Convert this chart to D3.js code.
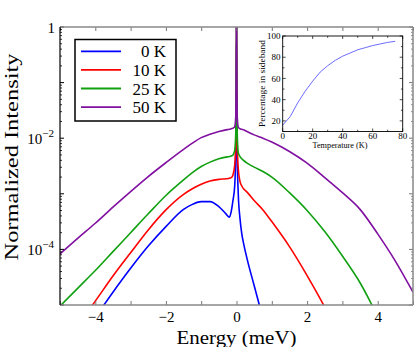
<!DOCTYPE html>
<html><head><meta charset="utf-8">
<script src="https://cdn.jsdelivr.net/npm/d3@7"></script>
<style>
body{margin:0;background:#fff}
svg{display:block}
</style>
</head><body>
<svg id="chart" width="415" height="347" style="font-family:'Liberation Serif','DejaVu Serif',serif"></svg>
<script>
// ---------------- data ----------------
const energy = [-5,-4.5,-4,-3.5,-3,-2.5,-2,-1.5,-1.25,-1,-0.75,-0.5,-0.3,-0.2,-0.15,-0.1,-0.05,-0.02,-0.01,0,0.01,0.02,0.05,0.1,0.15,0.2,0.3,0.5,0.75,1,1.5,2,2.5,3,3.5,4,4.5,5];
// log10 of normalized intensity
const log10Intensity0K  = [-6.1,-5.66,-5.22,-4.77,-4.34,-3.94,-3.59,-3.28,-3.19,-3.14,-3.14,-3.23,-3.36,-3.42,-3.32,-3.12,-2.85,-2.2,-1.5,0,-1.6,-2.3,-3.0,-3.45,-3.72,-3.89,-4.17,-4.65,-5.25,-5.9,-7,-8,-9,-10,-11,-12,-13,-14];
const log10Intensity10K = [-5.8,-5.37,-4.93,-4.48,-4.06,-3.65,-3.29,-3.01,-2.91,-2.83,-2.77,-2.74,-2.73,-2.72,-2.71,-2.66,-2.48,-2.05,-1.5,0,-1.5,-2.1,-2.55,-2.78,-2.86,-2.91,-2.97,-3.12,-3.29,-3.50,-3.95,-4.47,-5.04,-5.7,-6.4,-7.1,-7.8,-8.5];
const log10Intensity25K = [-5.02,-4.70,-4.38,-4.04,-3.70,-3.36,-3.03,-2.75,-2.62,-2.51,-2.43,-2.37,-2.34,-2.33,-2.32,-2.30,-2.22,-1.9,-1.2,0,-1.2,-1.9,-2.26,-2.33,-2.37,-2.40,-2.45,-2.52,-2.60,-2.70,-2.98,-3.30,-3.68,-4.12,-4.60,-5.2,-5.8,-6.5];
const log10Intensity50K = [-4.08,-3.80,-3.53,-3.24,-2.96,-2.69,-2.44,-2.20,-2.09,-1.99,-1.93,-1.88,-1.85,-1.84,-1.83,-1.82,-1.79,-1.6,-1.0,0,-1.0,-1.6,-1.80,-1.83,-1.84,-1.85,-1.88,-1.94,-2.00,-2.07,-2.24,-2.45,-2.71,-2.98,-3.28,-3.72,-4.21,-4.77];
const seriesNames = ["0 K","10 K","25 K","50 K"];
const seriesColors = ["#0000ff","#ff0000","#10a010","#8010a0"];

const xTickLabels = [-4,-2,0,2,4];
const yTickLabelValues = [1,1e-2,1e-4];

const insetTemperature = [0,5,10,15,20,25,30,35,40,45,50,55,60,65,70,75];
const insetPercentage  = [16,24,37,48,57.5,66,72,77,81,84,87,89,91,92.5,94,95];
const insetXTickLabels = [0,20,40,60,80];
const insetYTickLabels = [20,40,60,80,100];

// ---------------- layout ----------------
const FONT = "'Liberation Serif','DejaVu Serif',serif";
const svg = d3.select("#chart");
const L = 60, R = 413, T = 27, B = 305;
const x = d3.scaleLinear().domain([-5,5]).range([L,R]);
const y = d3.scaleLog().domain([1e-5,1]).range([B,T]);

svg.append("defs").append("clipPath").attr("id","plotclip")
  .append("rect").attr("x",L).attr("y",T).attr("width",R-L).attr("height",B-T);

// curves
const series = [log10Intensity0K,log10Intensity10K,log10Intensity25K,log10Intensity50K];
const line = d3.line().x(d=>x(d[0])).y(d=>y(Math.pow(10,d[1]))).curve(d3.curveMonotoneX);
const gLines = svg.append("g").attr("clip-path","url(#plotclip)");
series.forEach((s,i)=>{
  gLines.append("path").datum(energy.map((e,j)=>[e,s[j]]))
    .attr("d",line).attr("fill","none").attr("stroke",seriesColors[i])
    .attr("stroke-width",1.6).attr("stroke-linejoin","round");
});

// x axes (bottom + top)
const fmt = d3.format("");
const gx = svg.append("g").attr("transform",`translate(0,${B})`)
  .call(d3.axisBottom(x).tickValues(d3.range(-5,6,1)).tickSizeInner(-4).tickSizeOuter(0).tickPadding(6.5)
    .tickFormat(d=> xTickLabels.includes(d) ? fmt(d) : ""));
gx.attr("font-family",null).attr("font-size",null);
gx.select(".domain").remove();
gx.selectAll("line").attr("stroke","#777");
gx.selectAll("text").attr("font-size",15);
const gxt = svg.append("g").attr("transform",`translate(0,${T})`)
  .call(d3.axisTop(x).tickValues(d3.range(-5,6,1)).tickSizeInner(-4).tickSizeOuter(0).tickFormat(""));
gxt.select(".domain").remove();
gxt.selectAll("line").attr("stroke","#777");

// y ticks (left + right), majors at decades, minors 2..9
const yMajor = d3.range(-5,1).map(e=>Math.pow(10,e));
const yMinor = [];
d3.range(-5,0).forEach(e=>{ for(let k=2;k<=9;k++) yMinor.push(k*Math.pow(10,e)); });
const gy = svg.append("g");
yMajor.forEach(v=>{
  gy.append("line").attr("x1",L).attr("x2",L+4).attr("y1",y(v)).attr("y2",y(v)).attr("stroke","#000");
  gy.append("line").attr("x1",R).attr("x2",R-4).attr("y1",y(v)).attr("y2",y(v)).attr("stroke","#777");
});
yMinor.forEach(v=>{
  gy.append("line").attr("x1",L).attr("x2",L+2).attr("y1",y(v)).attr("y2",y(v)).attr("stroke","#000").attr("stroke-width",0.8);
  gy.append("line").attr("x1",R).attr("x2",R-2).attr("y1",y(v)).attr("y2",y(v)).attr("stroke","#777").attr("stroke-width",0.8);
});
yTickLabelValues.forEach(v=>{
  const e = Math.round(Math.log10(v));
  const t = svg.append("text").attr("text-anchor","end").attr("font-size",15);
  if(e===0){
    t.attr("x",55).attr("y",y(v)+5.5).text("1");
  } else {
    t.attr("x",54).attr("y",y(v)+5.5);
    t.append("tspan").text("10");
    t.append("tspan").attr("font-size",11).attr("dy",-6.5).text("\u2212"+Math.abs(e));
  }
});

// spines
svg.append("line").attr("x1",L).attr("x2",R).attr("y1",T).attr("y2",T).attr("stroke","#888").attr("stroke-width",1.5);
svg.append("line").attr("x1",L).attr("x2",R).attr("y1",B).attr("y2",B).attr("stroke","#888").attr("stroke-width",1.5);
svg.append("line").attr("x1",R).attr("x2",R).attr("y1",T).attr("y2",B).attr("stroke","#888").attr("stroke-width",1.5);
svg.append("line").attr("x1",L).attr("x2",L).attr("y1",T).attr("y2",B).attr("stroke","#000").attr("stroke-width",1.2);

// axis titles
svg.append("text").attr("x",(L+R)/2).attr("y",343.5).attr("text-anchor","middle")
  .attr("font-size",19).attr("textLength",120).attr("lengthAdjust","spacingAndGlyphs").text("Energy (meV)");
svg.append("text").attr("transform","translate(17.5,157) rotate(-90)").attr("text-anchor","middle")
  .attr("font-size",19.5).attr("textLength",207).attr("lengthAdjust","spacingAndGlyphs").text("Normalized Intensity");

// legend
const lg = svg.append("g");
lg.append("rect").attr("x",75).attr("y",39.5).attr("width",101).attr("height",81.5)
  .attr("fill","#fff").attr("stroke","#000").attr("stroke-width",1.5);
seriesNames.forEach((n,i)=>{
  const yy = 51.3 + i*18.6;
  lg.append("line").attr("x1",81).attr("x2",121).attr("y1",yy).attr("y2",yy)
    .attr("stroke",seriesColors[i]).attr("stroke-width",1.8);
  lg.append("text").attr("x",166).attr("y",yy+6).attr("text-anchor","end").attr("font-size",17).text(n);
});

// ---------------- inset ----------------
const iL = 282.7, iR = 402.7, iT = 36, iB = 131.5;
const ix = d3.scaleLinear().domain([0,80]).range([iL,iR]);
const iy = d3.scaleLinear().domain([10,100]).range([iB,iT]);
const ig = svg.append("g");
ig.append("rect").attr("x",iL).attr("y",iT).attr("width",iR-iL).attr("height",iB-iT).attr("fill","#fff");
ig.append("path").datum(insetTemperature.map((t,i)=>[t,insetPercentage[i]]))
  .attr("d",d3.line().x(d=>ix(d[0])).y(d=>iy(d[1])))
  .attr("fill","none").attr("stroke","#5a5aff").attr("stroke-width",0.9);
d3.range(0,81,10).forEach(v=>{
  ig.append("line").attr("x1",ix(v)).attr("x2",ix(v)).attr("y1",iB).attr("y2",iB-(v%20===0?3:1.8)).attr("stroke","#000").attr("stroke-width",0.7);
  ig.append("line").attr("x1",ix(v)).attr("x2",ix(v)).attr("y1",iT).attr("y2",iT+(v%20===0?3:1.8)).attr("stroke","#000").attr("stroke-width",0.7);
});
d3.range(10,101,10).forEach(v=>{
  ig.append("line").attr("x1",iL).attr("x2",iL+(v%20===0?3:1.8)).attr("y1",iy(v)).attr("y2",iy(v)).attr("stroke","#000").attr("stroke-width",0.7);
  ig.append("line").attr("x1",iR).attr("x2",iR-(v%20===0?3:1.8)).attr("y1",iy(v)).attr("y2",iy(v)).attr("stroke","#000").attr("stroke-width",0.7);
});
ig.append("rect").attr("x",iL).attr("y",iT).attr("width",iR-iL).attr("height",iB-iT)
  .attr("fill","none").attr("stroke","#000").attr("stroke-width",0.9);
insetXTickLabels.forEach(v=>{
  ig.append("text").attr("x",ix(v)).attr("y",139).attr("text-anchor","middle").attr("font-size",9).text(v);
});
insetYTickLabels.forEach(v=>{
  ig.append("text").attr("x",280.5).attr("y",iy(v)+3.2).attr("text-anchor","end").attr("font-size",9).text(v);
});
ig.append("text").attr("x",340).attr("y",148).attr("text-anchor","middle").attr("font-size",9)
  .attr("textLength",55).attr("lengthAdjust","spacingAndGlyphs").text("Temperature (K)");
ig.append("text").attr("transform","translate(265,83.5) rotate(-90)").attr("text-anchor","middle").attr("font-size",9)
  .attr("textLength",87).attr("lengthAdjust","spacingAndGlyphs").text("Percentage in sideband");

// force serif font on every text element
svg.selectAll("text").style("font-family",FONT).attr("fill","#000");
</script>
</body></html>
